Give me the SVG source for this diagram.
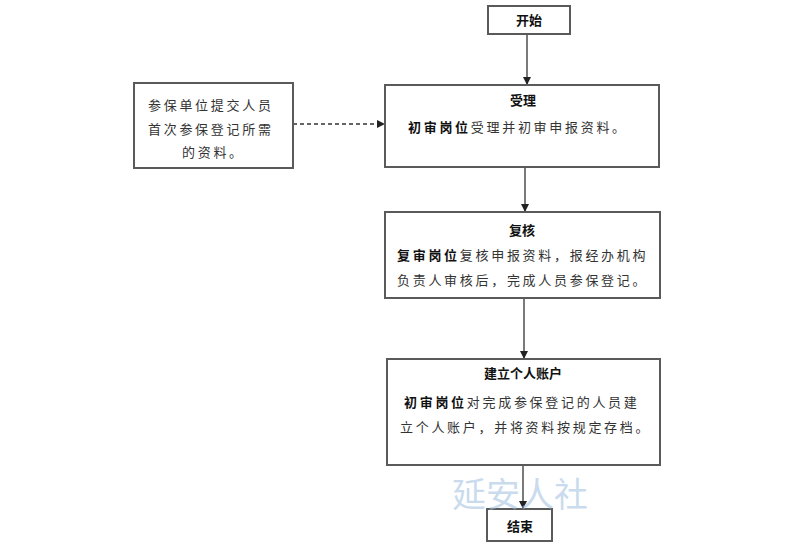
<svg xmlns="http://www.w3.org/2000/svg" width="800" height="550" viewBox="0 0 800 550">
<style>
.box{fill:#fff;stroke:#5a5a5a;stroke-width:2}
.t{font-family:"Liberation Serif","Noto Sans CJK SC",serif;font-size:13px;fill:#333;letter-spacing:2.7px}
.b{font-weight:bold;fill:#111}
.h{font-family:"Liberation Serif","Noto Sans CJK SC",serif;font-size:13px;font-weight:bold;fill:#111;text-anchor:middle}
.ln{stroke:#333;stroke-width:1.3;fill:none}
.wm{font-family:"Noto Sans CJK SC",sans-serif;font-size:34px;fill:#9fbfe0;opacity:0.55}
</style>
<defs>
<marker id="ah" markerWidth="8" markerHeight="8" refX="7" refY="4" orient="auto" markerUnits="userSpaceOnUse">
<path d="M0,0 L8,4 L0,8 Z" fill="#222"/>
</marker>
</defs>
<rect width="800" height="550" fill="#fff"/>
<g id="connectors">
<line class="ln" x1="527" y1="34" x2="527" y2="84" marker-end="url(#ah)"/>
<line class="ln" x1="293" y1="124" x2="384" y2="124" stroke-dasharray="4,3" marker-end="url(#ah)"/>
<line class="ln" x1="525" y1="167" x2="525" y2="211" marker-end="url(#ah)"/>
<line class="ln" x1="524" y1="298" x2="524" y2="358" marker-end="url(#ah)"/>
<line class="ln" x1="523" y1="465" x2="523" y2="508" marker-end="url(#ah)"/>
</g>
<g id="start">
<rect class="box" x="488" y="6" width="82" height="28"/>
<text class="h" x="529" y="25" font-size="14">开始</text>
</g>
<g id="submit">
<rect class="box" x="134" y="83" width="159" height="85"/>
<text class="t" x="148" y="110">参保单位提交人员</text>
<text class="t" x="148" y="134">首次参保登记所需</text>
<text class="t" x="182" y="157">的资料。</text>
</g>
<g id="accept">
<rect class="box" x="385" y="85" width="274" height="82"/>
<text class="h" x="523" y="105">受理</text>
<text class="t" x="408" y="132"><tspan class="b">初审岗位</tspan>受理并初审申报资料。</text>
</g>
<g id="review">
<rect class="box" x="385" y="212" width="275" height="86"/>
<text class="h" x="522" y="235">复核</text>
<text class="t" x="397" y="260"><tspan class="b">复审岗位</tspan>复核申报资料，报经办机构</text>
<text class="t" x="397" y="285">负责人审核后，完成人员参保登记。</text>
</g>
<g id="account">
<rect class="box" x="387" y="359" width="273" height="106"/>
<text class="h" x="523" y="378">建立个人账户</text>
<text class="t" x="404" y="407"><tspan class="b">初审岗位</tspan>对完成参保登记的人员建</text>
<text class="t" x="400" y="432">立个人账户，并将资料按规定存档。</text>
</g>
<g id="end">
<rect class="box" x="487" y="509" width="65" height="32"/>
<text class="h" x="520" y="531">结束</text>
</g>
<text class="wm" x="452" y="507">延安人社</text>
</svg>
